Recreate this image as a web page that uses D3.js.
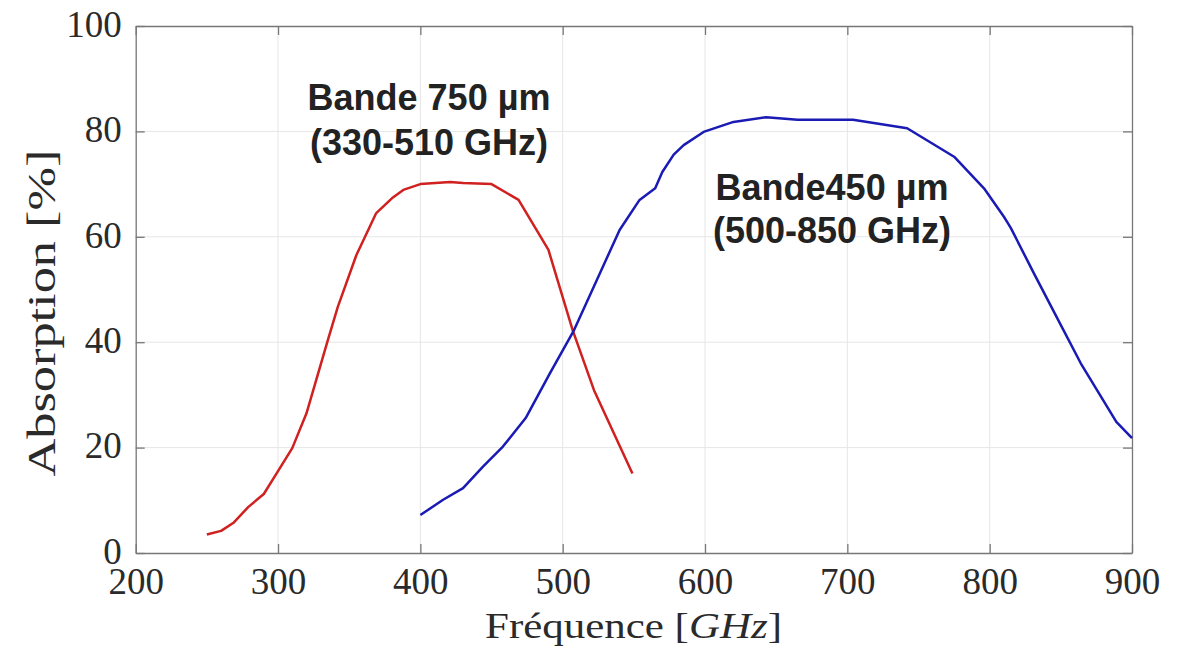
<!DOCTYPE html>
<html>
<head>
<meta charset="utf-8">
<script src="https://cdn.jsdelivr.net/npm/d3@7"></script>
<style>
  body { margin: 0; background: #fff; }
  svg { display: block; }
</style>
</head>
<body>
<div id="chart"></div>
<script>
// bande 750 µm (rouge)
const redFreq = [250, 260, 269, 279, 290, 299, 310, 320, 335, 342, 355, 369, 380, 388, 400, 421, 430, 450, 469, 490, 507, 522, 549];
const redAbs  = [3.5, 4.2, 5.8, 8.7, 11.2, 15.1, 19.9, 26.5, 40.4, 46.7, 56.5, 64.5, 67.3, 68.9, 70.0, 70.4, 70.2, 70.0, 67.0, 57.5, 42.3, 30.9, 15.1];

// bande 450 µm (bleu)
const blueFreq = [400, 416, 430, 444, 458, 474, 491, 508, 524, 540, 554, 565, 570, 578, 585, 599, 620, 643, 665, 704, 742, 775, 796, 810, 813, 815, 831, 847, 864, 889, 899, 900];
const blueAbs  = [7.2, 10.1, 12.3, 16.4, 20.2, 25.6, 34.1, 42.3, 51.8, 61.3, 67.0, 69.2, 72.3, 75.6, 77.4, 79.9, 81.8, 82.7, 82.2, 82.2, 80.6, 75.2, 69.2, 63.8, 62.5, 61.6, 53.1, 44.8, 36.0, 24.9, 22.1, 21.8];

const xTicks = [200, 300, 400, 500, 600, 700, 800, 900];
const yTicks = [0, 20, 40, 60, 80, 100];

const width = 1187, height = 651;
const margin = { left: 135.7, right: 55, top: 26, bottom: 98 };

const svg = d3.select("#chart").append("svg")
    .attr("width", width)
    .attr("height", height);

const x = d3.scaleLinear().domain([200, 900]).range([margin.left, width - margin.right]);
const y = d3.scaleLinear().domain([0, 100]).range([height - margin.bottom, margin.top]);

const serif = "'Liberation Serif', 'Times New Roman', serif";

// grille
svg.append("g")
    .selectAll("line")
    .data(xTicks.slice(1, -1))
    .join("line")
    .attr("x1", d => x(d)).attr("x2", d => x(d))
    .attr("y1", y(0)).attr("y2", y(100))
    .attr("stroke", "#e6e6e6").attr("stroke-width", 1);

svg.append("g")
    .selectAll("line")
    .data(yTicks.slice(1, -1))
    .join("line")
    .attr("x1", x(200)).attr("x2", x(900))
    .attr("y1", d => y(d)).attr("y2", d => y(d))
    .attr("stroke", "#e6e6e6").attr("stroke-width", 1);

// axes (ticks vers l'intérieur, sur les 4 côtés)
function styleAxis(g) {
    g.select(".domain").attr("stroke", "#777").attr("stroke-width", 1.3);
    g.selectAll(".tick line").attr("stroke", "#777").attr("stroke-width", 1.3);
    g.selectAll("text").attr("fill", "#2a2a2a").attr("font-family", serif).attr("font-size", 37);
}

svg.append("g")
    .attr("transform", `translate(0,${y(0)})`)
    .call(d3.axisBottom(x).tickValues(xTicks).tickSizeInner(-9).tickSizeOuter(0).tickPadding(15))
    .call(styleAxis)
    .call(g => g.selectAll("text").attr("dy", "0.71em"));

svg.append("g")
    .attr("transform", `translate(0,${y(100)})`)
    .call(d3.axisTop(x).tickValues(xTicks).tickSizeInner(-9).tickSizeOuter(0).tickFormat(""))
    .call(styleAxis);

svg.append("g")
    .attr("transform", `translate(${x(200)},0)`)
    .call(d3.axisLeft(y).tickValues(yTicks).tickSizeInner(-9).tickSizeOuter(0).tickPadding(14))
    .call(styleAxis)
    .call(g => g.selectAll("text").attr("dy", "0.28em"));

svg.append("g")
    .attr("transform", `translate(${x(900)},0)`)
    .call(d3.axisRight(y).tickValues(yTicks).tickSizeInner(-9).tickSizeOuter(0).tickFormat(""))
    .call(styleAxis);

// courbes
const line = d3.line()
    .x(d => x(d[0]))
    .y(d => y(d[1]));

svg.append("path")
    .datum(d3.zip(redFreq, redAbs))
    .attr("d", line)
    .attr("fill", "none")
    .attr("stroke", "#d02020")
    .attr("stroke-width", 2.5)
    .attr("stroke-linejoin", "round");

svg.append("path")
    .datum(d3.zip(blueFreq, blueAbs))
    .attr("d", line)
    .attr("fill", "none")
    .attr("stroke", "#1a1ab4")
    .attr("stroke-width", 2.5)
    .attr("stroke-linejoin", "round");

// titres des axes
svg.append("text")
    .attr("x", 633.5).attr("y", 638)
    .attr("text-anchor", "middle")
    .attr("font-family", serif)
    .attr("font-size", 36)
    .attr("fill", "#2a2a2a")
    .attr("textLength", 297)
    .attr("lengthAdjust", "spacingAndGlyphs")
    .call(t => t.append("tspan").text("Fréquence "))
    .call(t => t.append("tspan").text("["))
    .call(t => t.append("tspan").attr("font-style", "italic").text("GHz"))
    .call(t => t.append("tspan").text("]"));

svg.append("text")
    .attr("transform", "translate(55,313) rotate(-90)")
    .attr("text-anchor", "middle")
    .attr("font-family", serif)
    .attr("font-size", 41)
    .attr("fill", "#2a2a2a")
    .attr("textLength", 327)
    .attr("lengthAdjust", "spacingAndGlyphs")
    .text("Absorption [%]");

// annotations
const sans = "'Liberation Sans', Arial, sans-serif";
const notes = [
    { cx: 429, y: 110, text: "Bande 750 µm" },
    { cx: 429, y: 155, text: "(330-510 GHz)" },
    { cx: 832, y: 200, text: "Bande450 µm" },
    { cx: 832, y: 243, text: "(500-850 GHz)" }
];
svg.append("g")
    .selectAll("text")
    .data(notes)
    .join("text")
    .attr("x", d => d.cx).attr("y", d => d.y)
    .attr("text-anchor", "middle")
    .attr("font-family", sans)
    .attr("font-weight", "bold")
    .attr("font-size", 36)
    .attr("fill", "#222")
    .text(d => d.text);
</script>
</body>
</html>
